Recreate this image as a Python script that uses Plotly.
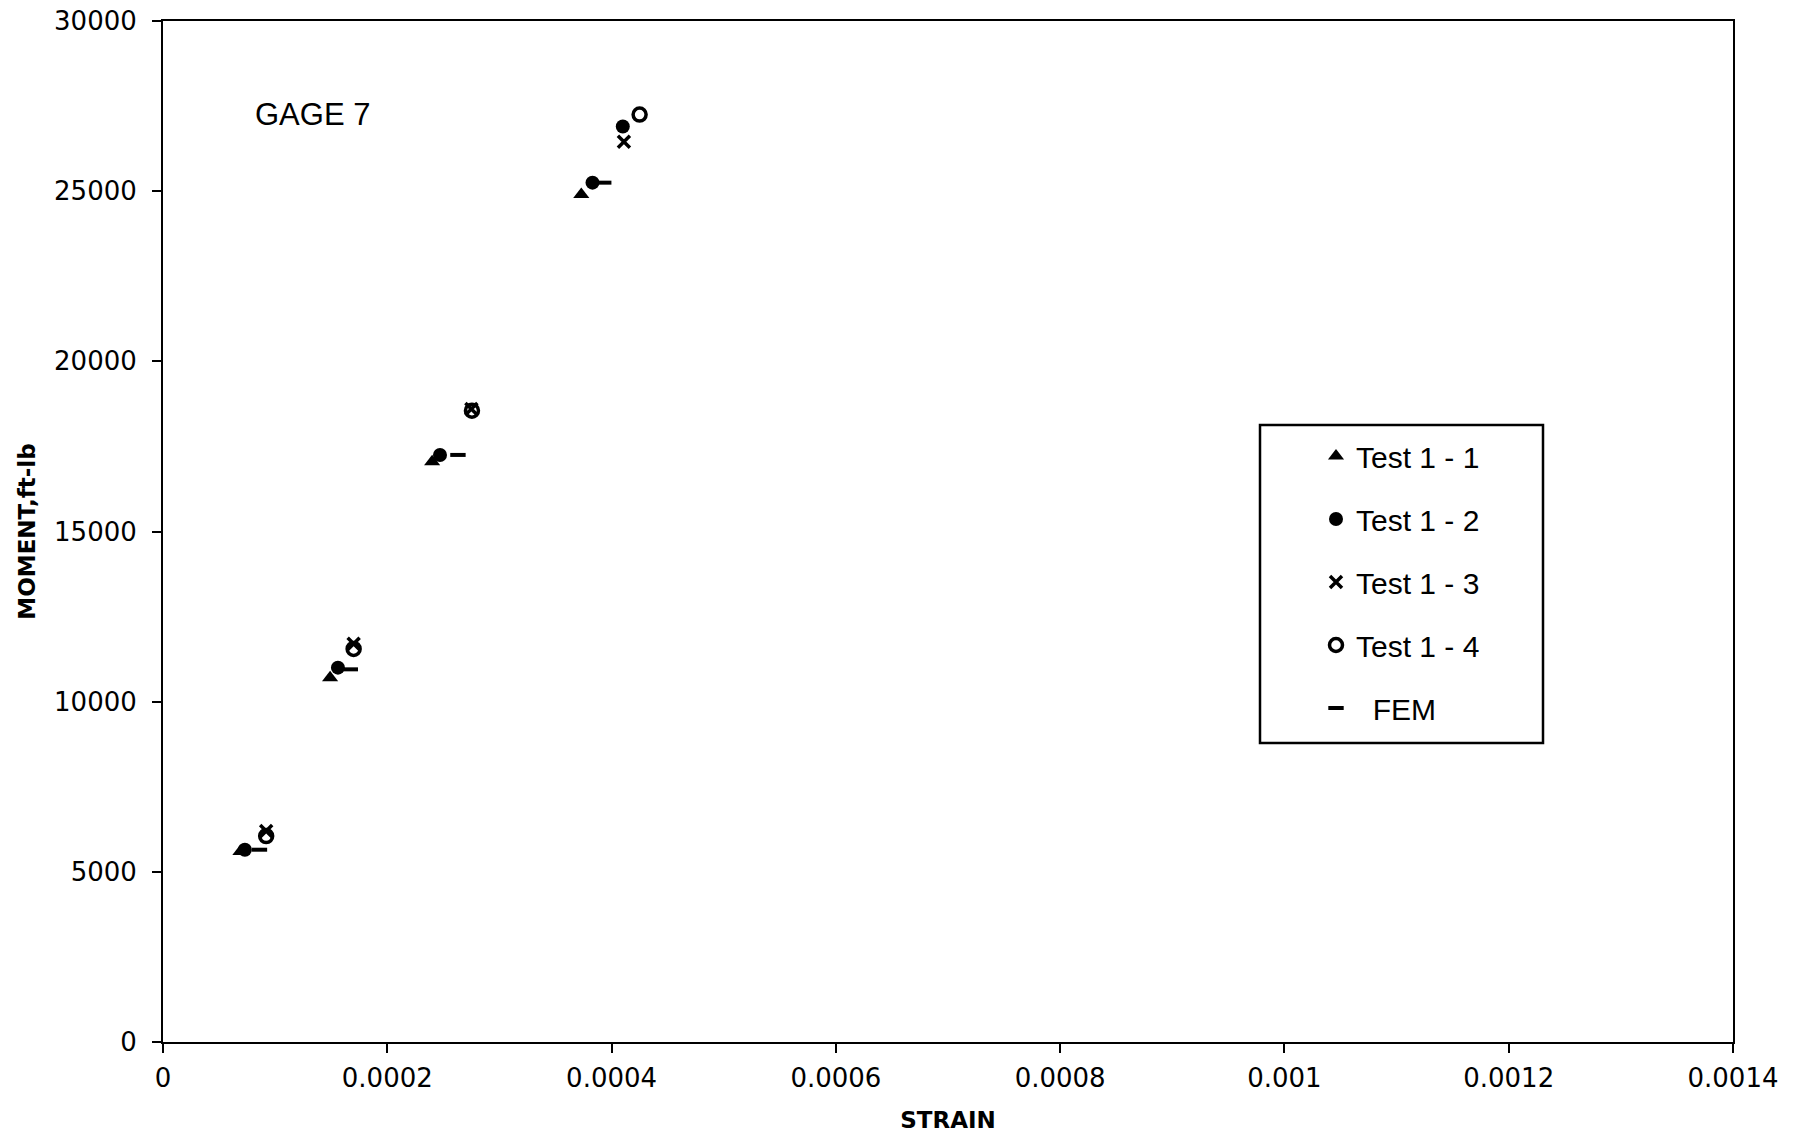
import plotly.graph_objects as go

# ---- data ----
test11_x = [6.9e-5, 1.49e-4, 2.40e-4, 3.73e-4]
test11_y = [5600, 10700, 17050, 24900]

test12_x = [7.3e-5, 1.56e-4, 2.47e-4, 3.83e-4, 4.10e-4]
test12_y = [5650, 11000, 17250, 25250, 26900]

test13_x = [9.2e-5, 1.70e-4, 2.75e-4, 4.11e-4]
test13_y = [6200, 11700, 18600, 26450]

test14_x = [9.2e-5, 1.70e-4, 2.755e-4, 4.25e-4]
test14_y = [6050, 11550, 18550, 27250]

fem_x = [8.6e-5, 1.67e-4, 2.63e-4, 3.93e-4]
fem_y = [5650, 10950, 17250, 25250]

x_tickvals = [0, 0.0002, 0.0004, 0.0006, 0.0008, 0.001, 0.0012, 0.0014]
x_ticktext = ["0", "0.0002", "0.0004", "0.0006", "0.0008", "0.001", "0.0012", "0.0014"]
y_tickvals = [0, 5000, 10000, 15000, 20000, 25000, 30000]
y_ticktext = ["0", "5000", "10000", "15000", "20000", "25000", "30000"]

fig = go.Figure()

fig.add_trace(go.Scatter(x=test11_x, y=test11_y, mode="markers", name="Test 1 - 1",
                         legendgroup="a",
                         marker=dict(symbol="triangle-up", size=14, color="black")))
fig.add_trace(go.Scatter(x=test12_x, y=test12_y, mode="markers", name="Test 1 - 2",
                         legendgroup="b",
                         marker=dict(symbol="circle", size=14, color="black")))
fig.add_trace(go.Scatter(x=test13_x, y=test13_y, mode="markers", name="Test 1 - 3",
                         legendgroup="c",
                         marker=dict(symbol="x-thin", size=12, color="black",
                                     line=dict(width=3.5, color="black"))))
fig.add_trace(go.Scatter(x=test14_x, y=test14_y, mode="markers", name="Test 1 - 4",
                         legendgroup="d",
                         marker=dict(symbol="circle-open", size=13, color="black",
                                     line=dict(width=3.5, color="black"))))
fig.add_trace(go.Scatter(x=fem_x, y=fem_y, mode="markers", name="  FEM",
                         legendgroup="e",
                         marker=dict(symbol="line-ew", size=11, color="black",
                                     line=dict(width=4, color="black"))))

# legend frame
fig.add_shape(type="rect", xref="paper", yref="paper",
              x0=(1260 - 163) / 1570, x1=(1543 - 163) / 1570,
              y0=(1042 - 743) / 1021, y1=(1042 - 425) / 1021,
              line=dict(color="black", width=2.5), fillcolor="rgba(0,0,0,0)")

fig.add_annotation(x=8.0e-5, y=27250, xref="x", yref="y", text="GAGE 7",
                   showarrow=False, xanchor="left", yanchor="middle",
                   font=dict(family="Liberation Sans, Arial", size=31, color="black"))

axis_common = dict(showline=True, linecolor="black", linewidth=2, mirror=True,
                   showgrid=False, zeroline=False, ticks="outside", ticklen=9,
                   tickwidth=2, tickcolor="black", automargin=False,
                   tickfont=dict(family="DejaVu Sans", size=26, color="black"))

fig.update_xaxes(range=[0, 0.0014], tickvals=x_tickvals, ticktext=x_ticktext,
                 ticklabelstandoff=3,
                 title=dict(text="<b>STRAIN</b>", standoff=20,
                            font=dict(family="DejaVu Sans", size=23, color="black")),
                 **axis_common)
fig.update_yaxes(range=[0, 30000], tickvals=y_tickvals, ticktext=y_ticktext,
                 ticklabelstandoff=10,
                 title=dict(text="<b>MOMENT,ft-lb</b>", standoff=12,
                            font=dict(family="DejaVu Sans", size=23, color="black")),
                 **axis_common)

fig.update_layout(
    width=1800, height=1136,
    margin=dict(l=163, r=67, t=21, b=94),
    paper_bgcolor="white", plot_bgcolor="white",
    showlegend=True,
    legend=dict(x=(1316 - 163) / 1570, y=(1042 - 430) / 1021, xanchor="left", yanchor="top",
                bgcolor="rgba(0,0,0,0)", borderwidth=0, tracegroupgap=21,
                font=dict(family="Liberation Sans, Arial", size=30, color="black")),
)

fig.write_html("out.html")
